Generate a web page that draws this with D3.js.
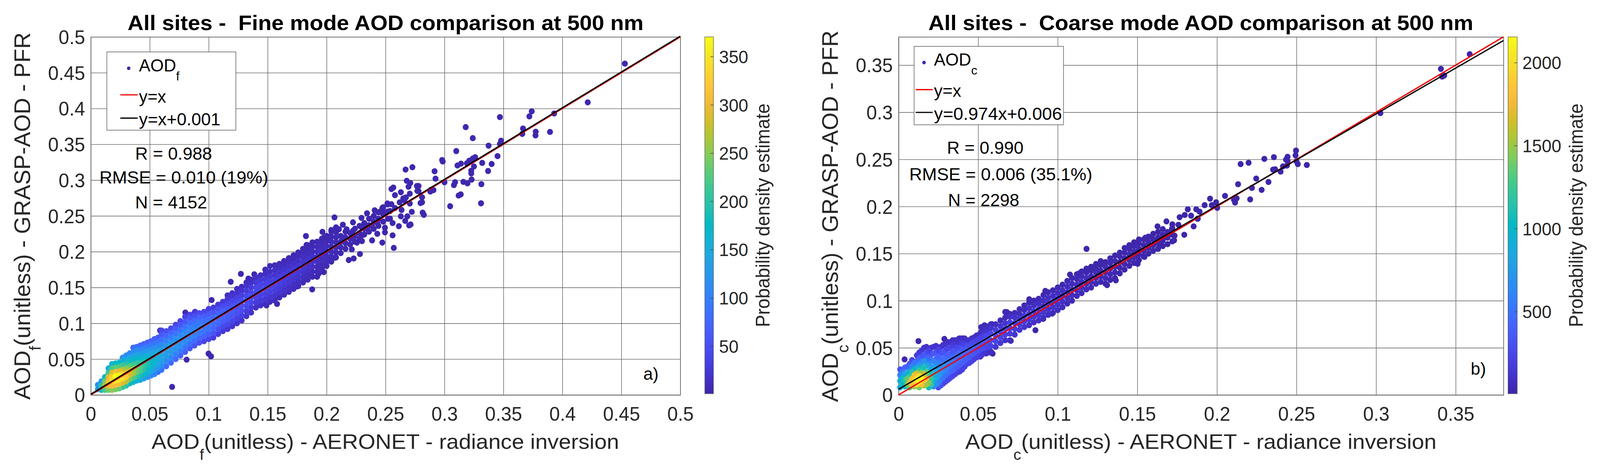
<!DOCTYPE html>
<html>
<head>
<meta charset="utf-8">
<script src="https://cdn.jsdelivr.net/npm/d3@7"></script>
<style>
	html, body { margin: 0; padding: 0; background: #fff; width: 100%; height: 100%; overflow: hidden; }
	svg { display: block; width: 100vw; height: 100vh; }
	text { font-family: "Liberation Sans", Arial, sans-serif; white-space: pre; }
</style>
</head>
<body>
<script>
// parula colour map, every third entry of the 64 colour table
var parulaStops = ["#3e26a8", "#4332cb", "#4741e5", "#4852f4", "#4563fd", "#3875fe", "#2e87f7", "#2796eb",
	"#20a5e3", "#12b1d6", "#02bac3", "#24c1ae", "#37c897", "#57cc7a", "#81cc59", "#abc739",
	"#d1bf27", "#efba36", "#fec338", "#fad62d", "#f5e924", "#f9fb15"];

var fineTicks = [0, 0.05, 0.1, 0.15, 0.2, 0.25, 0.3, 0.35, 0.4, 0.45, 0.5];
var coarseTicks = [0, 0.05, 0.1, 0.15, 0.2, 0.25, 0.3, 0.35];
var fineBarTicks = [50, 100, 150, 200, 250, 300, 350];
var coarseBarTicks = [500, 1000, 1500, 2000];

// scatter columns: x, y values, density values
var fineColumns = [
	[.006, [.008,.014], [130,120]],
	[.009, [.007,.013,.019], [180,200,130]],
	[.012, [.007,.013,.019,.025], [220,270,240,180]],
	[.015, [.007,.013,.019,.025,.031,.037], [240,300,310,290,210,150]],
	[.018, [.007,.013,.019,.025,.031,.037,.043], [250,310,340,330,290,220,165]],
	[.021, [.008,.014,.020,.026,.032,.038,.044], [240,310,355,370,310,230,175]],
	[.024, [.009,.015,.021,.027,.033,.039,.045], [230,305,350,368,300,225,170]],
	[.027, [.011,.017,.023,.029,.035,.041,.047,.052], [210,290,345,330,270,210,160,120]],
	[.030, [.013,.019,.025,.031,.037,.043,.049,.055], [200,270,320,300,245,195,150,110]],
	[.033, [.016,.022,.028,.034,.040,.046,.052,.058], [175,240,285,280,225,180,145,105]],
	[.036, [.018,.024,.030,.036,.042,.048,.054,.060,.066], [165,220,260,260,215,175,140,110,80]],
	[.039, [.020,.026,.032,.038,.044,.050,.056,.062,.067], [160,200,235,240,205,170,140,110,80]],
	[.042, [.021,.027,.033,.039,.045,.051,.057,.063,.069], [150,185,215,225,200,165,135,105,75]],
	[.045, [.023,.029,.035,.041,.047,.053,.059,.065,.071], [135,170,195,205,185,160,130,100,70]],
	[.048, [.025,.031,.037,.043,.049,.055,.061,.067,.073], [120,155,180,190,175,150,125,95,70]],
	[.051, [.027,.033,.039,.045,.051,.057,.063,.069,.075], [110,140,165,175,170,145,120,95,70]],
	[.054, [.029,.035,.041,.047,.053,.059,.065,.071,.078], [100,130,150,165,160,140,115,90,65]],
	[.057, [.032,.038,.044,.050,.056,.062,.068,.074,.080], [90,120,140,150,150,135,110,85,60]],
	[.060, [.035,.042,.049,.056,.063,.070,.077,.084,.090], [85,115,135,145,135,110,85,60,40]],
	[.064, [.040,.047,.054,.061,.068,.075,.082,.089], [80,110,130,135,125,100,75,50]],
	[.068, [.045,.052,.059,.066,.073,.080,.087,.093], [75,105,125,130,120,95,70,45]],
	[.072, [.050,.057,.064,.071,.078,.085,.092,.098], [75,100,120,125,115,90,65,40]],
	[.076, [.055,.062,.069,.076,.083,.090,.097,.103], [70,95,115,120,110,85,60,40]],
	[.080, [.060,.067,.074,.081,.088,.095,.102,.109], [65,90,110,115,105,85,60,35]],
	[.084, [.065,.072,.079,.086,.093,.100,.107,.112], [60,85,105,110,100,80,55,35]],
	[.088, [.069,.076,.083,.090,.097,.104,.110,.115], [55,80,100,105,95,75,50,30]],
	[.092, [.073,.080,.087,.094,.101,.108,.114], [50,75,95,100,90,70,45]],
	[.096, [.075,.082,.089,.096,.103,.110,.116], [40,70,90,95,85,65,40]],
	[.100, [.078,.085,.092,.099,.106,.113,.120], [40,65,85,90,80,60,35]],
	[.104, [.080,.087,.094,.101,.108,.115,.122], [30,55,75,85,75,55,30]],
	[.108, [.085,.092,.099,.106,.113,.120,.126], [30,50,70,80,70,50,28]],
	[.112, [.089,.096,.103,.110,.117,.124,.130], [28,45,65,72,65,45,25]],
	[.116, [.092,.099,.106,.113,.120,.127,.134,.139], [25,42,60,66,60,42,24,15]],
	[.120, [.096,.103,.110,.117,.124,.131,.138,.142], [22,40,55,60,55,40,22,14]],
	[.124, [.100,.107,.114,.121,.128,.135,.142,.148], [20,36,50,55,50,36,20,12]],
	[.128, [.104,.111,.118,.125,.132,.139,.146,.151], [18,32,46,52,46,32,18,10]],
	[.132, [.110,.117,.124,.131,.138,.145,.152,.157], [18,30,42,48,42,30,18,10]],
	[.136, [.115,.122,.129,.136,.143,.150,.157,.161], [18,28,40,45,40,28,16,10]],
	[.140, [.122,.129,.136,.143,.150,.157,.164], [16,28,38,43,38,26,14]],
	[.144, [.125,.132,.139,.146,.153,.160,.167], [14,26,36,42,38,26,14]],
	[.148, [.127,.134,.141,.148,.155,.162,.169,.175], [12,24,34,40,36,26,14,9]],
	[.152, [.130,.137,.144,.151,.158,.165,.172,.180], [12,22,32,38,34,24,14,9]],
	[.156, [.132,.139,.146,.153,.160,.167,.174,.181], [10,20,30,36,32,22,14,9]],
	[.160, [.136,.143,.150,.157,.164,.171,.178,.183], [10,20,28,34,30,20,12,8]],
	[.164, [.140,.147,.154,.161,.168,.175,.182,.187], [10,18,26,30,28,18,11,8]],
	[.168, [.144,.151,.158,.165,.172,.179,.186,.191], [10,16,24,28,26,17,10,7]],
	[.172, [.148,.155,.162,.169,.176,.183,.190,.195], [9,15,22,26,24,16,9,7]],
	[.176, [.152,.159,.166,.173,.180,.187,.194,.199], [9,14,20,24,22,15,9,6]],
	[.180, [.157,.164,.171,.178,.185,.192,.199,.204], [8,12,18,22,20,13,8,6]],
	[.184, [.161,.168,.175,.182,.189,.196,.203,.209], [8,12,16,20,18,12,8,6]],
	[.188, [.165,.172,.179,.186,.193,.200,.207,.213], [7,10,15,18,16,10,7,5]],
	[.192, [.172,.179,.186,.193,.200,.207,.214], [7,10,14,16,14,9,6]],
	[.196, [.176,.183,.190,.197,.204,.211,.218], [6,9,12,14,12,8,5]],
	[.200, [.180,.187,.194,.201,.208,.215,.222], [6,9,11,12,11,7,5]],
	[.204, [.186,.193,.200,.207,.214,.221,.228], [5,8,10,10,8,5,4]],
	[.208, [.192,.199,.206,.213,.220,.227,.234], [5,7,8,8,6,4,3]],
	[.212, [.198,.206,.214,.222], [4,6,7,5]],
	[.216, [.204,.212,.220,.228], [4,5,6,4]],
	[.220, [.210,.218,.226], [4,5,4]],
	[.224, [.214,.222,.232], [3,5,4]],
	[.228, [.218,.226,.236], [3,4,3]],
	[.232, [.224,.232,.240], [3,4,3]],
	[.236, [.228,.237,.246], [3,4,3]],
	[.240, [.232,.242,.250], [3,4,3]],
	[.244, [.236,.246,.255], [3,4,3]],
	[.248, [.242,.252,.262], [3,4,3]],
	[.252, [.246,.256,.266], [3,3,3]]
];

// single points at the edges of the fine mode cloud
var fineLone = [
	[.453,.4627],[.4215,.4086],[.374,.396],[.372,.389],[.393,.393],[.347,.388],[.318,.374],[.3666,.372],
	[.366,.3645],[.3774,.3675],[.3772,.3624],[.3895,.3673],[.324,.3586],[.348,.355],[.347,.3505],[.3374,.348],
	[.310,.3405],[.345,.3335],[.326,.332],[.324,.330],[.321,.327],[.319,.3235],[.314,.323],[.311,.3204],
	[.298,.328],[.2985,.326],[.332,.324],[.340,.3225],[.325,.319],[.337,.3127],[.3227,.313],[.3227,.3094],
	[.323,.3007],[.3313,.2943],[.316,.2975],[.3195,.2955],[.309,.297],[.308,.293],[.300,.297],[.2916,.3123],
	[.2924,.302],[.2728,.318],[.267,.3147],[.268,.299],[.271,.296],[.2695,.2907],[.2766,.2918],[.278,.2918],
	[.277,.2848],[.278,.2845],[.2706,.281],[.263,.283],[.2885,.2865],[.2907,.286],[.288,.284],[.3138,.28],
	[.312,.2784],[.3048,.2635],[.331,.2676],[.281,.276],[.281,.269],[.2797,.268],[.2706,.2673],[.2673,.2758],
	[.265,.2745],[.266,.2716],[.262,.2689],[.2636,.2583],[.2723,.2557],[.2815,.2546],[.2825,.2515],[.2685,.2494],
	[.263,.2494],[.2667,.243],[.2713,.238],[.27,.2367],[.2566,.2896],[.255,.2875],[.258,.279],[.2343,.2536],
	[.2067,.2479],[.2224,.241],[.2296,.2472],[.2408,.2578],[.2473,.261],[.2516,.2674],[.255,.2663],[.258,.261],
	[.2495,.2547],[.2538,.2568],[.245,.2557],[.2138,.2377],[.2105,.2313],[.204,.2303],[.217,.2313],[.2224,.2292],
	[.1965,.2277],[.23,.2335],[.243,.24],[.2343,.2335],[.2386,.2356],[.2495,.2335],[.256,.24],[.2538,.2462],
	[.1825,.2218],[.23,.2228],[.243,.225],[.2495,.227],[.256,.2228],[.2613,.2356],[.2019,.2207],[.1976,.2197],
	[.2148,.2197],[.2235,.2218],[.183,.2095],[.2257,.2127],[.23,.2148],[.2386,.2158],[.2473,.2127],[.257,.2053],
	[.2283,.1968],[.223,.1905],[.2188,.1884],[.2214,.2032],[.2127,.2148],[.2073,.1916],[.2019,.1873],[.1976,.1715],
	[.1933,.1694],[.192,.165],[.1857,.17],[.1818,.164],[.1878,.1473],[.175,.1515],[.158,.127],[.149,.125],
	[.1273,.169],[.1187,.158],[.1025,.1325],[.0802,.115],[.0884,.116],[.0588,.09],[.069,.0112],[.0999,.0576],
	[.102,.0538],[.0813,.0492],[.1387,.1684],[.1337,.1625]
];

var coarseColumns = [
	[.001, [.008,.015,.021,.027], [850,950,600,300]],
	[.0025, [.011,.018,.024], [1050,950,550]],
	[.004, [.009,.016,.022,.029], [1000,1150,800,420]],
	[.0055, [.011,.017,.023,.030], [1400,1350,950,420]],
	[.007, [.008,.013,.019,.025,.033], [1300,1700,1250,750,320]],
	[.0085, [.011,.017,.024,.030,.037], [1800,1800,1150,600,230]],
	[.010, [.009,.015,.021,.027,.034], [1500,1950,1800,1000,500]],
	[.0115, [.011,.017,.023,.029,.036,.042], [1950,2100,1600,850,420,170]],
	[.013, [.008,.014,.020,.026,.032,.039,.045], [1400,2155,2000,1200,700,380,150]],
	[.0145, [.011,.017,.023,.029,.035,.041,.047], [1800,2155,1500,950,560,280,120]],
	[.016, [.010,.016,.022,.029,.036,.043,.050], [1500,1850,1600,1100,700,350,110]],
	[.0175, [.011,.017,.024,.031,.038,.044,.051], [1500,1700,1350,850,450,230,100]],
	[.019, [.008,.013,.019,.025,.033,.040,.047], [1050,1400,1250,950,650,400,200]],
	[.0205, [.011,.017,.023,.030,.037,.043,.050], [1200,1200,1100,750,450,250,120]],
	[.022, [.009,.016,.022,.029,.036,.044,.051], [600,950,950,800,600,340,120]],
	[.0235, [.011,.018,.024,.031,.038,.045,.052], [700,850,850,640,420,230,100]],
	[.025, [.008,.013,.020,.027,.034,.041,.048], [250,600,750,700,560,400,220]],
	[.0265, [.010,.016,.023,.030,.037,.044,.051], [300,550,680,620,420,260,120]],
	[.028, [.012,.018,.025,.031,.038,.045,.053], [200,500,620,620,470,320,110]],
	[.0295, [.014,.021,.027,.033,.040,.047,.054], [250,480,600,560,400,240,100]],
	[.031, [.016,.023,.029,.035,.042,.049,.056], [250,450,550,540,380,240,85]],
	[.0325, [.018,.025,.031,.037,.043,.050,.056], [240,420,520,480,340,200,85]],
	[.034, [.020,.026,.033,.040,.046,.053,.058], [220,400,500,450,320,160,80]],
	[.0355, [.022,.028,.034,.040,.046,.052,.058], [200,380,480,440,300,170,80]],
	[.037, [.024,.030,.036,.043,.050,.056], [180,360,460,420,250,100]],
	[.0385, [.025,.032,.038,.044,.050,.056,.060], [190,370,450,400,260,130,70]],
	[.040, [.027,.034,.041,.048,.054,.060], [200,380,440,340,190,80]],
	[.0415, [.030,.036,.042,.048,.054,.060], [210,370,420,330,180,80]],
	[.043, [.033,.039,.045,.052,.058], [220,370,410,280,110]],
	[.0445, [.034,.040,.046,.052,.058], [210,350,390,260,110]],
	[.046, [.036,.043,.049,.055,.060], [200,340,380,240,100]],
	[.0475, [.038,.044,.050,.056,.061], [190,320,360,220,90]],
	[.049, [.040,.046,.052,.058,.063], [190,310,350,200,80]],
	[.0505, [.041,.047,.053,.059,.064], [170,290,330,200,85]],
	[.052, [.042,.049,.055,.061,.067,.072], [150,280,320,200,90,50]],
	[.0535, [.044,.050,.056,.063,.070], [120,250,300,190,70]],
	[.055, [.044,.050,.056,.062,.068,.073], [90,240,300,240,110,50]],
	[.0565, [.045,.051,.057,.064,.071], [80,220,290,210,70]],
	[.058, [.046,.052,.058,.065,.071,.075], [70,210,280,230,110,50]],
	[.061, [.051,.057,.063,.069,.075], [130,240,270,180,70]],
	[.064, [.055,.061,.067,.073,.079], [140,230,240,130,50]],
	[.067, [.058,.064,.070,.076,.082,.088], [110,200,220,130,60,40]],
	[.070, [.058,.065,.071,.077,.083,.086], [70,180,200,190,90,40]],
	[.073, [.064,.070,.076,.082,.087], [120,180,190,100,50]],
	[.076, [.069,.075,.081,.086,.091], [140,180,150,70,40]],
	[.079, [.072,.078,.084,.090,.095], [130,170,140,60,40]],
	[.082, [.074,.080,.086,.092,.098], [90,150,160,100,40]],
	[.085, [.077,.083,.089,.095,.100], [90,140,150,80,40]],
	[.088, [.079,.085,.091,.097,.102], [80,130,145,90,40]],
	[.091, [.082,.088,.094,.100,.106], [80,125,135,85,40]],
	[.094, [.085,.091,.097,.103,.109], [75,115,125,80,40]],
	[.097, [.087,.093,.099,.105,.111], [60,110,120,80,35]],
	[.100, [.090,.096,.102,.108,.114], [60,100,110,70,35]],
	[.103, [.093,.099,.105,.111,.117], [55,90,100,70,30]],
	[.106, [.097,.103,.109,.115,.121], [50,85,95,65,30]],
	[.109, [.100,.106,.112,.118,.124], [45,80,90,60,28]],
	[.112, [.105,.111,.117,.123,.128], [50,75,80,50,25]],
	[.115, [.108,.114,.120,.126,.131], [45,65,70,45,20]],
	[.118, [.112,.118,.124,.130,.134], [50,65,55,25,15]],
	[.121, [.114,.120,.126,.132,.136], [45,60,50,22,14]],
	[.124, [.118,.124,.130,.135,.139], [45,55,45,20,12]],
	[.127, [.120,.126,.132,.138,.142], [35,50,40,18,12]],
	[.130, [.118,.124,.130,.136,.141], [20,40,48,35,15]],
	[.133, [.122,.128,.134,.140,.145], [22,38,45,30,14]],
	[.136, [.124,.130,.136,.142,.148], [18,35,42,28,12]],
	[.139, [.129,.135,.141,.147,.151], [22,35,40,25,12]],
	[.142, [.133,.139,.145,.151,.156], [20,32,36,22,10]],
	[.145, [.137,.143,.149,.155,.159], [20,30,32,20,10]],
	[.148, [.140,.146,.152,.158,.162], [18,28,28,15,9]],
	[.151, [.143,.149,.155,.161,.165], [15,24,25,14,8]],
	[.154, [.147,.153,.159,.165], [14,20,20,10]],
	[.157, [.150,.156,.162,.168], [12,18,16,8]],
	[.160, [.153,.159,.165,.171], [10,14,14,8]],
	[.163, [.155,.161,.167,.173], [8,13,12,7]],
	[.166, [.158,.164,.170,.176], [8,12,10,6]],
	[.169, [.160,.167,.173], [7,10,9]],
	[.172, [.163,.170,.177,.181], [6,9,8,5]]
];

var coarseLone = [
	[.3588,.3616],[.3407,.346],[.3415,.3379],[.3428,.339],[.3027,.2991],[.2497,.2593],[.2494,.2543],[.2444,.2527],
	[.244,.25],[.2434,.2497],[.2444,.2483],[.25,.248],[.2508,.245],[.2565,.244],[.2358,.2523],[.2298,.2505],
	[.2199,.2464],[.2149,.245],[.244,.2434],[.2415,.2426],[.24,.237],[.2366,.2394],[.2353,.2391],[.2247,.2296],
	[.2324,.226],[.2133,.2236],[.222,.2197],[.2281,.2176],[.2051,.2112],[.1957,.2083],[.2209,.2075],[.2124,.2087],
	[.2107,.2071],[.2114,.2042],[.1923,.2014],[.1968,.2014],[.1995,.2044],[.2002,.1986],[.1891,.1945],[.188,.187],
	[.1817,.197],[.187,.197],[.1683,.1842],[.1627,.1789],[.1766,.1886],[.1798,.191],[.1838,.1902],[.1878,.187],
	[.1854,.1789],[.1795,.17],[.1758,.1805],[.1718,.1764],[.1702,.1724],[.1654,.1676],[.159,.1676],[.155,.1668],
	[.1734,.169],[.1651,.1585],[.1731,.1641],[.1494,.148],[.1454,.1456],[.1502,.1392],[.1545,.1465],
	[.131,.1165],[.1365,.1216],[.1181,.155],[.1133,.1288],[.1077,.1277],[.0965,.0863],[.0909,.0807],[.0922,.1104],
	[.086,.0687],[.0821,.1015],[.0705,.0574],[.0692,.0847],[.068,.0879],[.0591,.0438],[.0587,.0751],[.054,.0738],
	[.052,.0422],[.0513,.0406],[.0449,.0358],[.0369,.0269],[.038,.0598],[.0288,.0594],[.0284,.0149],[.0239,.0112],
	[.0125,.0571],[.0038,.0377]
];

var fineLoneDensity = 4;
var coarseLoneDensity = 12;

var panels = [
	{
		columns: fineColumns, lone: fineLone, loneDensity: fineLoneDensity,
		ticks: fineTicks, barTicks: fineBarTicks, axisMax: 0.5, barRange: [0.6, 370.4],
		left: 238.4, right: 1786.6, barLeft: 1851, barRight: 1873.7, barPad: 14.7,
		fitSlope: 1, fitOffset: 0.001,
		title: { text: "All sites -  Fine mode AOD comparison at 500 nm", x: 335, w: 1355 },
		xLabel: { main: "AOD", sub: "f", rest: "(unitless) - AERONET - radiance inversion", x: 398, w: 1228 },
		yLabel: { main: "AOD", sub: "f", rest: "(unitless) - GRASP-AOD - PFR", x: 79, y: 1024, w: 941 },
		barLabel: { x: 2021, y: 838, w: 573 },
		legend: { x: 280.6, y: 133, w: 338.8, h: 200.5, sub: "f", marker: [338, 175], textX: 365,
			lineX: [316, 361.6], base: [183, 262.6, 321], lineY: [243, 302.7], fit: "y=x+0.001", fitW: 214 },
		stats: [["R = 0.988", 355, 408.6, 202], ["RMSE = 0.010 (19%)", 261, 470, 443.5], ["N = 4152", 355, 534, 189]],
		tag: { text: "a)", x: 1689.5, y: 973 }
	},
	{
		columns: coarseColumns, lone: coarseLone, loneDensity: coarseLoneDensity,
		ticks: coarseTicks, barTicks: coarseBarTicks, axisMax: 0.38, barRange: [5, 2155],
		left: 2359.8, right: 3948.4, barLeft: 3960.5, barRight: 3984.6, barPad: 13.4,
		fitSlope: 0.974, fitOffset: 0.006,
		title: { text: "All sites -  Coarse mode AOD comparison at 500 nm", x: 2438, w: 1431 },
		xLabel: { main: "AOD", sub: "c", rest: "(unitless) - AERONET - radiance inversion", x: 2535, w: 1237.6 },
		yLabel: { main: "AOD", sub: "c", rest: "(unitless) - GRASP-AOD - PFR", x: 2200, y: 1030, w: 952 },
		barLabel: { x: 4156.4, y: 838, w: 573 },
		legend: { x: 2400.7, y: 118.7, w: 392.3, h: 201, sub: "c", marker: [2426.8, 160.3], textX: 2453,
			lineX: [2404.7, 2449.6], base: [168, 248, 306.6], lineY: [229.6, 288], fit: "y=0.974x+0.006", fitW: 336 },
		stats: [["R = 0.990", 2487, 393.8, 201], ["RMSE = 0.006 (35.1%)", 2388, 462, 480.8], ["N = 2298", 2489.7, 528.4, 187.3]],
		tag: { text: "b)", x: 3862.5, y: 960 }
	}
];

var top_ = 94.5, bottom = 1011.8, barBottom = 1008.8;
var ink = "#262626", gridColor = "#727272";
var pointRadius = 7.8;

// the window can come out narrower than asked, so the drawing always fills it
var svg = d3.select("body").append("svg").attr("viewBox", "0 0 4202 1217").attr("preserveAspectRatio", "none");
svg.append("rect").attr("width", 4202).attr("height", 1217).attr("fill", "#fff");

// writes one line of text from x,y, stretched along its direction to the read width
function putText(parent, x, y, parts, size, width, opts) {
	opts = opts || {};
	var t = parent.append("text").attr("font-size", size).attr("fill", opts.fill || ink)
		.attr("font-weight", opts.bold ? "bold" : "normal");
	var shift = 0;
	parts.forEach(function(p) {
		var s = t.append("tspan").text(p.text);
		if (p.sub) {
			s.attr("font-size", p.subSize).attr("dy", p.drop);
			shift = p.drop;
		} else if (shift) {
			s.attr("dy", -shift);
			shift = 0;
		}
	});
	var k = width ? width / t.node().getComputedTextLength() : 1;
	t.attr("transform", "translate(" + x + "," + y + ")" + (opts.rotate ? " rotate(-90)" : "") + " scale(" + k + ",1)");
	return t;
}

function drawPanel(p, idx) {
	var x = d3.scaleLinear().domain([0, p.axisMax]).range([p.left, p.right]);
	var y = d3.scaleLinear().domain([0, p.axisMax]).range([bottom, top_]);
	var barY = d3.scaleLinear().domain(p.barRange).range([barBottom, top_]);
	var color = d3.scaleLinear()
		.domain(parulaStops.map(function(c, i) {
			return p.barRange[0] + (p.barRange[1] - p.barRange[0]) * i / (parulaStops.length - 1);
		}))
		.range(parulaStops);

	var g = svg.append("g");

	// grid through the axes, ticks stretched over the plot
	var xAxis = d3.axisBottom(x).tickValues(p.ticks).tickFormat(String).tickSize(-(bottom - top_)).tickPadding(31);
	var yAxis = d3.axisLeft(y).tickValues(p.ticks).tickFormat(String).tickSize(-(p.right - p.left)).tickPadding(15);
	var gx = g.append("g").attr("transform", "translate(0," + bottom + ")").call(xAxis);
	var gy = g.append("g").attr("transform", "translate(" + p.left + ",0)").call(yAxis);
	[gx, gy].forEach(function(a) {
		a.selectAll("line").attr("stroke", gridColor).attr("stroke-width", 1.6);
		a.select(".domain").attr("stroke", gridColor).attr("stroke-width", 2);
		a.selectAll("text").attr("font-size", 50).attr("fill", ink)
			.attr("font-family", "'Liberation Sans', Arial, sans-serif");
	});
	gy.selectAll("text").attr("dy", "0.36em");

	// points, low density first
	var points = [];
	p.columns.forEach(function(c) {
		c[1].forEach(function(v, i) {
			points.push({ x: c[0], y: v, d: c[2][i] });
		});
	});
	p.lone.forEach(function(c) {
		points.push({ x: c[0], y: c[1], d: p.loneDensity });
	});
	points.sort(function(a, b) { return a.d - b.d; });

	g.append("g").selectAll("circle").data(points).enter().append("circle")
		.attr("cx", function(d) { return x(d.x); })
		.attr("cy", function(d) { return y(d.y); })
		.attr("r", pointRadius)
		.attr("fill", function(d) { return color(d.d); });

	// reference and fit lines
	var line = d3.line().x(function(d) { return x(d[0]); }).y(function(d) { return y(d[1]); });
	g.append("path").attr("d", line([[0, 0], [p.axisMax, p.axisMax]]))
		.attr("stroke", "#f00000").attr("stroke-width", 3.4).attr("fill", "none");
	g.append("path").attr("d", line([[0, p.fitOffset], [p.axisMax, p.fitSlope * p.axisMax + p.fitOffset]]))
		.attr("stroke", "#000").attr("stroke-width", 3.4).attr("fill", "none");

	// legend
	var l = p.legend;
	g.append("rect").attr("x", l.x).attr("y", l.y).attr("width", l.w).attr("height", l.h)
		.attr("fill", "#fff").attr("stroke", "#666").attr("stroke-width", 1.6);
	g.append("circle").attr("cx", l.marker[0]).attr("cy", l.marker[1]).attr("r", 4.6).attr("fill", color(p.barRange[0]));
	putText(g, l.textX, l.base[0], [{ text: "AOD" }, { text: l.sub, sub: true, subSize: 32, drop: 23 }], 45, null, { fill: "#000" });
	g.append("line").attr("x1", l.lineX[0]).attr("x2", l.lineX[1]).attr("y1", l.lineY[0]).attr("y2", l.lineY[0])
		.attr("stroke", "#f00000").attr("stroke-width", 3.2);
	g.append("line").attr("x1", l.lineX[0]).attr("x2", l.lineX[1]).attr("y1", l.lineY[1]).attr("y2", l.lineY[1])
		.attr("stroke", "#000").attr("stroke-width", 3.2);
	putText(g, l.textX, l.base[1], [{ text: "y=x" }], 45, null, { fill: "#000" });
	putText(g, l.textX, l.base[2], [{ text: l.fit }], 45, l.fitW, { fill: "#000" });

	p.stats.forEach(function(s) {
		putText(g, s[1], s[2], [{ text: s[0] }], 45, s[3], { fill: "#000" });
	});
	putText(g, p.tag.x, p.tag.y, [{ text: p.tag.text }], 45, null, { fill: "#000" });

	// titles and axis labels
	putText(g, p.title.x, 76.6, [{ text: p.title.text }], 54, p.title.w, { bold: true, fill: "#000" });
	var xl = p.xLabel, yl = p.yLabel;
	putText(g, xl.x, 1150, [{ text: xl.main }, { text: xl.sub, sub: true, subSize: 38, drop: 28 }, { text: xl.rest }], 54, xl.w);
	putText(g, yl.x, yl.y, [{ text: yl.main }, { text: yl.sub, sub: true, subSize: 41, drop: 28 }, { text: yl.rest }], 58, yl.w, { rotate: true });

	// colour bar
	var gradId = "parula" + idx;
	var grad = svg.append("defs").append("linearGradient").attr("id", gradId)
		.attr("x1", 0).attr("x2", 0).attr("y1", 1).attr("y2", 0);
	grad.selectAll("stop").data(parulaStops).enter().append("stop")
		.attr("offset", function(d, i) { return i / (parulaStops.length - 1); })
		.attr("stop-color", function(d) { return d; });
	g.append("rect").attr("x", p.barLeft).attr("y", top_).attr("width", p.barRight - p.barLeft)
		.attr("height", barBottom - top_).attr("fill", "url(#" + gradId + ")").attr("stroke", "#555").attr("stroke-width", 1.2);
	var barAxis = d3.axisRight(barY).tickValues(p.barTicks).tickFormat(String).tickSize(-8).tickPadding(p.barPad);
	var gb = g.append("g").attr("transform", "translate(" + p.barRight + ",0)").call(barAxis);
	gb.select(".domain").remove();
	gb.selectAll("line").attr("stroke", "#444").attr("stroke-width", 1.4);
	gb.selectAll("text").attr("font-size", 46).attr("fill", ink).attr("dy", "0.36em")
		.attr("font-family", "'Liberation Sans', Arial, sans-serif");
	putText(g, p.barLabel.x, p.barLabel.y, [{ text: "Probability density estimate" }], 51, p.barLabel.w, { rotate: true });
}

panels.forEach(drawPanel);
</script>
</body>
</html>
